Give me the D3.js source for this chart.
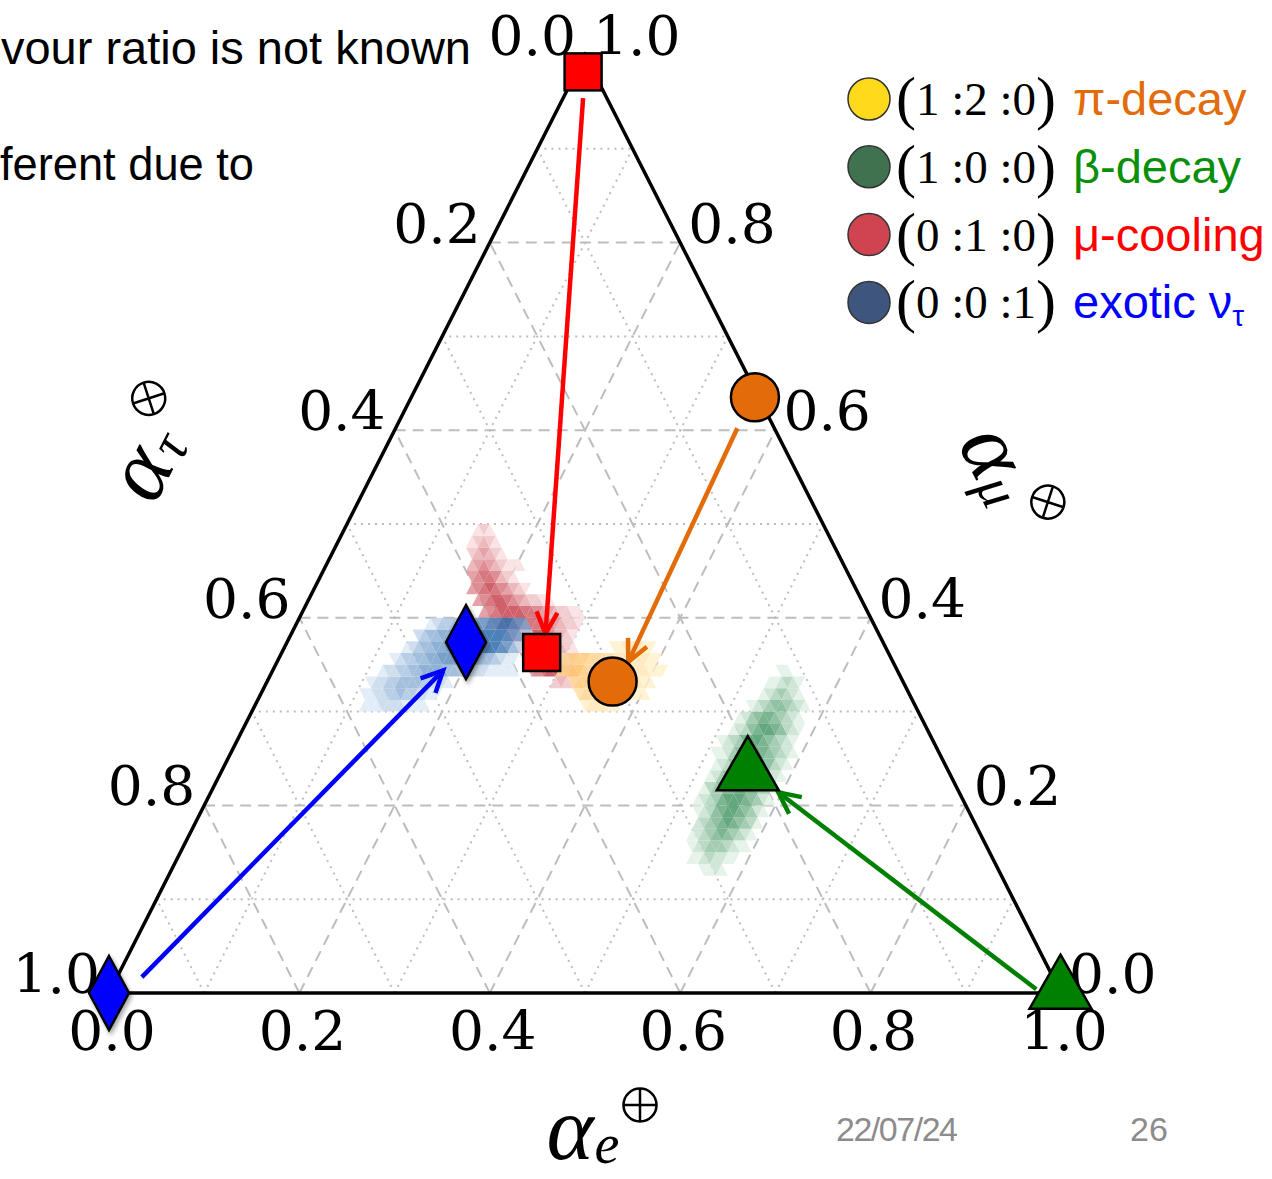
<!DOCTYPE html>
<html>
<head>
<meta charset="utf-8">
<script src="https://cdn.jsdelivr.net/npm/d3@7"></script>
<style>
body { margin: 0; background: #fff; }
svg { display: block; }
</style>
</head>
<body>
<svg></svg>
<script>
const width = 1272
const height = 1179

// Axis ticks and grid levels
const tickValues = [0.0, 0.2, 0.4, 0.6, 0.8, 1.0]
const dashedLevels = [0.2, 0.4, 0.6, 0.8]
const dottedLevels = [0.1, 0.3, 0.5, 0.7, 0.9]

// Source ratios: pi-decay, beta-decay, mu-cooling, exotic nu_tau  (alpha_e, alpha_mu)
const sourceNames = ["pi", "beta", "mu", "exotic"]
const sourceE = [0.361, 0.994, 0.007, 0.0]
const sourceMu = [0.635, 0.011, 0.982, 0.0]
// Flavour ratios at Earth
const earthE = [0.363, 0.549, 0.273, 0.188]
const earthMu = [0.332, 0.244, 0.363, 0.374]
// Arrow tails and tips (alpha_e, alpha_mu)
const arrowFrom = [[0.359, 0.602], [0.972, 0.004], [0.021, 0.954], [0.026, 0.017]]
const arrowTo = [[0.369, 0.353], [0.596, 0.214], [0.267, 0.383], [0.179, 0.344]]

// Legend
const legendRatios = ["1 :2 :0", "1 :0 :0", "0 :1 :0", "0 :0 :1"]
const legendNames = ["π-decay", "β-decay", "μ-cooling", "exotic ν"]

// Density clouds on an 80-step triangular grid: [row, first cell, levels 1-9 per cell]
const cloudBlue = [
    [24, 18, "11122221111"],
    [25, 17, "1122334332211"],
    [26, 17, "12233444433221"],
    [27, 18, "12233445555443322211111"],
    [28, 19, "123344556666655443211"],
    [29, 20, "123445566677888876421"],
    [30, 21, "23445566677888876532"],
    [31, 22, "12334455667788765"]
]
const cloudRed = [
    [26, 48, "2321"],
    [27, 43, "45677532"],
    [28, 41, "456776532"],
    [29, 39, "4567765321"],
    [30, 36, "345677654321"],
    [31, 32, "3456677665543221"],
    [32, 30, "45677776654432211"],
    [33, 28, "4567765432211"],
    [34, 26, "4567654321"],
    [35, 25, "45665321"],
    [36, 24, "345432111"],
    [37, 23, "234321"],
    [38, 22, "12321"],
    [39, 22, "121"]
]
const cloudOrange = [
    [24, 55, "122211"],
    [25, 53, "344332222111"],
    [26, 51, "45543333322211"],
    [27, 48, "456654433333222111"],
    [28, 47, "34555443322222211"],
    [29, 55, "1122211"]
]
const cloudGreen = [
    [10, 89, "1121"],
    [11, 86, "11232211"],
    [12, 85, "1234443211"],
    [13, 84, "12345654321"],
    [14, 84, "23456765431"],
    [15, 83, "123567765421"],
    [16, 82, "1234677765421"],
    [17, 82, "1345677765431"],
    [18, 82, "1245677765421"],
    [19, 82, "1235677765321"],
    [20, 81, "11245677654321"],
    [21, 81, "1234677654321"],
    [22, 82, "123567765321"],
    [23, 82, "12456654321"],
    [24, 83, "1234554321"],
    [25, 84, "1234321"],
    [26, 84, "112321"],
    [27, 85, "11"]
]

const N = 80
const serif = "'DejaVu Serif', serif"
const mathFont = "'Liberation Serif', serif"
const sans = "'Liberation Sans', Arial, sans-serif"

const svg = d3.select("svg")
    .attr("width", width)
    .attr("height", height)

// Ternary projection through linear scales
const xScale = d3.scaleLinear().domain([0, 1]).range([109, 1061])
const yScale = d3.scaleLinear().domain([0, 1]).range([993, 55])
const proj = (e, mu) => [xScale(e + mu / 2), yScale(mu)]
const line = d3.line()

// Slide text, only the visible part
svg.append("text").attr("x", 1).attr("y", 64)
    .attr("font-family", sans).attr("font-size", 46)
    .attr("textLength", 470).attr("lengthAdjust", "spacingAndGlyphs")
    .text("vour ratio is not known")
svg.append("text").attr("x", 0).attr("y", 180)
    .attr("font-family", sans).attr("font-size", 46)
    .attr("textLength", 254).attr("lengthAdjust", "spacingAndGlyphs")
    .text("ferent due to")

// Grid
const grid = svg.append("g").attr("fill", "none").attr("stroke", "#bdbdbd")
const gridLines = v => [
    [proj(0, v), proj(1 - v, v)],
    [proj(v, 0), proj(v, 1 - v)],
    [proj(1 - v, 0), proj(0, 1 - v)]
]
dottedLevels.forEach(v => gridLines(v).forEach(seg => {
    grid.append("path").attr("d", line(seg))
        .attr("stroke-width", 2).attr("stroke-dasharray", "2,5")
}))
dashedLevels.forEach(v => gridLines(v).forEach(seg => {
    grid.append("path").attr("d", line(seg))
        .attr("stroke-width", 2).attr("stroke-dasharray", "11,7")
}))

// Clouds
const cellPoints = (r, c) => {
    const i = Math.floor(c / 2)
    const pts = c % 2 === 0
        ? [[i, r], [i + 1, r], [i, r + 1]]
        : [[i + 1, r], [i + 1, r + 1], [i, r + 1]]
    return pts.map(p => proj(p[0] / N, p[1] / N))
}
const drawCloud = (rows, color) => {
    const cells = []
    rows.forEach(([r, c0, s]) => {
        s.split("").forEach((ch, k) => cells.push({ r, c: c0 + k, level: +ch }))
    })
    svg.append("g").selectAll("path").data(cells).enter().append("path")
        .attr("d", d => line(cellPoints(d.r, d.c)) + "Z")
        .attr("fill", d => color((d.level - 1) / 8))
        .attr("fill-opacity", 0.88)
}
drawCloud(cloudRed, d3.interpolateRgb("#f8dfe1", "#bb1a28"))
drawCloud(cloudBlue, d3.interpolateRgb("#dfeaf6", "#1c5fa5"))
drawCloud(cloudOrange, d3.interpolateRgb("#fff1cc", "#ffa431"))
drawCloud(cloudGreen, d3.interpolateRgb("#e2f1e6", "#1f7f45"))

// Triangle border
svg.append("path")
    .attr("d", line([proj(0, 0), proj(1, 0), proj(0, 1)]) + "Z")
    .attr("fill", "none").attr("stroke", "#000").attr("stroke-width", 3.5)
    .attr("stroke-linejoin", "miter")

// Tick labels
const ticks = svg.append("g").attr("font-family", serif).attr("font-size", 55)
tickValues.forEach(v => {
    const [x] = proj(v, 0)
    ticks.append("text").attr("x", x + 3).attr("y", 1050)
        .attr("text-anchor", "middle").text(v.toFixed(1))
    const [lx, ly] = proj(0, 1 - v)
    ticks.append("text").attr("x", lx - 9).attr("y", ly)
        .attr("text-anchor", "end").text(v.toFixed(1))
    const [rx, ry] = proj(1 - v, v)
    ticks.append("text").attr("x", rx + 8).attr("y", ry)
        .attr("text-anchor", "start").text(v.toFixed(1))
})

// Axis titles: alpha, subscript and a circled plus / times
const axisTitle = (cx, cy, angle, sub, cross) => {
    const g = svg.append("g").attr("transform", `translate(${cx},${cy}) rotate(${angle})`)
    g.append("text").attr("x", 0).attr("y", 0).attr("dy", "0.3em")
        .attr("text-anchor", "middle").attr("font-family", mathFont)
        .attr("font-style", "italic").attr("font-size", 90).text("α")
    g.append("text").attr("x", 37).attr("y", 14).attr("dy", "0.3em")
        .attr("text-anchor", "middle").attr("font-family", mathFont)
        .attr("font-style", "italic").attr("font-size", 56).text(sub)
    const s = g.append("g").attr("transform", `translate(70,-27)`)
        .attr("fill", "none").attr("stroke", "#000").attr("stroke-width", 2.5)
    s.append("circle").attr("r", 16.5)
    const a = cross ? 11.7 : 16.5
    const b = cross ? 11.7 : 0
    s.append("path").attr("d", cross
        ? `M${-a},${-b}L${a},${b}M${-a},${b}L${a},${-b}`
        : `M${-a},0L${a},0M0,${-a}L0,${a}`)
}
axisTitle(570, 1132, 0, "e", false)
axisTitle(141, 473, -63, "τ", true)
axisTitle(992, 452, 63, "μ", true)

// Arrows
const arrowColors = ["#e36c0a", "#008000", "#ff0000", "#0000ff"]
const arrows = svg.append("g").attr("fill", "none").attr("stroke-width", 4.5)
    .attr("stroke-linecap", "butt")
arrowFrom.forEach((from, k) => {
    const p1 = proj(from[0], from[1])
    const p2 = proj(arrowTo[k][0], arrowTo[k][1])
    const ang = Math.atan2(p2[1] - p1[1], p2[0] - p1[0])
    const head = 24
    const spread = 0.45
    const a1 = [p2[0] - head * Math.cos(ang - spread), p2[1] - head * Math.sin(ang - spread)]
    const a2 = [p2[0] - head * Math.cos(ang + spread), p2[1] - head * Math.sin(ang + spread)]
    arrows.append("path").attr("d", line([p1, p2])).attr("stroke", arrowColors[k])
    arrows.append("path").attr("d", line([a1, p2, a2])).attr("stroke", arrowColors[k])
        .attr("stroke-linejoin", "miter")
})

// Markers
const defs = svg.append("defs")
defs.append("filter").attr("id", "shadow").attr("x", "-50%").attr("y", "-50%")
    .attr("width", "200%").attr("height", "200%")
    .append("feDropShadow").attr("dx", 2).attr("dy", 3).attr("stdDeviation", 2)
    .attr("flood-color", "#000").attr("flood-opacity", 0.35)

const marker = (name, [x, y]) => {
    const g = svg.append("g").attr("stroke", "#000").attr("stroke-width", 2.5)
        .attr("stroke-linejoin", "miter")
    if (name === "pi") {
        g.append("circle").attr("cx", x).attr("cy", y).attr("r", 24).attr("fill", "#e36c0a")
    } else if (name === "beta") {
        g.append("path").attr("d", line([[x, y - 28], [x + 31, y + 26], [x - 31, y + 26]]) + "Z")
            .attr("fill", "#008000")
    } else if (name === "mu") {
        g.append("rect").attr("x", x - 18.5).attr("y", y - 18.5).attr("width", 37).attr("height", 37)
            .attr("fill", "#ff0000")
    } else {
        g.append("path").attr("d", line([[x, y - 37], [x + 20, y], [x, y + 37], [x - 20, y]]) + "Z")
            .attr("fill", "#0000ff").attr("filter", "url(#shadow)")
    }
}
sourceNames.forEach((name, k) => {
    marker(name, proj(sourceE[k], sourceMu[k]))
    marker(name, proj(earthE[k], earthMu[k]))
})

// Legend
const legendFill = ["#ffd91c", "#40724f", "#cf4450", "#3e557e"]
const legendText = ["#e36c0a", "#0a8f0a", "#ff0000", "#0000ff"]
const legend = svg.append("g")
legendRatios.forEach((ratio, k) => {
    const y = 99 + k * 67.8
    legend.append("circle").attr("cx", 869).attr("cy", y).attr("r", 21)
        .attr("fill", legendFill[k]).attr("stroke", "#333").attr("stroke-width", 1.5)
    const t = legend.append("text").attr("x", 896).attr("y", y + 16)
        .attr("font-family", mathFont).attr("font-size", 47)
    t.append("tspan").attr("font-size", 60).attr("dy", 3).text("(")
    t.append("tspan").attr("dy", -3).text(ratio)
    t.append("tspan").attr("font-size", 60).attr("dy", 3).text(")")
    const n = legend.append("text").attr("x", 1073).attr("y", y + 16)
        .attr("font-family", sans).attr("font-size", 47).attr("fill", legendText[k])
        .text(legendNames[k])
    if (k === 3) n.append("tspan").attr("font-size", 30).attr("dy", 8).text("τ")
})

// Footer
svg.append("text").attr("x", 836).attr("y", 1141).attr("font-family", sans)
    .attr("font-size", 34).attr("fill", "#8c8c8c").attr("textLength", 122).text("22/07/24")
svg.append("text").attr("x", 1130).attr("y", 1141).attr("font-family", sans)
    .attr("font-size", 34).attr("fill", "#8c8c8c").text("26")
</script>
</body>
</html>
